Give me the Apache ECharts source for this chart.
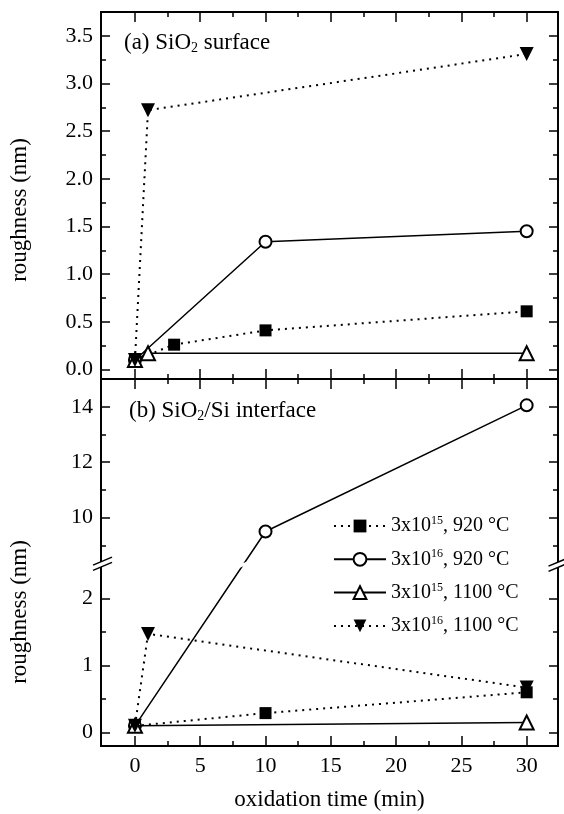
<!DOCTYPE html>
<html><head><meta charset="utf-8">
<script src="https://cdn.jsdelivr.net/npm/echarts@6/dist/echarts.min.js"></script>
<style>html,body{margin:0;padding:0;background:#fff}#c{width:564px;height:814px}</style>
</head><body><div id="c"></div>
<script>
// ---------- data ----------
const seriesNames = ['3x10^15, 920 °C', '3x10^16, 920 °C', '3x10^15, 1100 °C', '3x10^16, 1100 °C'];

// (a) SiO2 surface
const surfTime15_920 = [0, 3, 10, 30];
const surfRough15_920 = [0.1, 0.26, 0.41, 0.61];
const surfTime16_920 = [0, 10, 30];
const surfRough16_920 = [0.1, 1.34, 1.45];
const surfTime15_1100 = [0, 1, 30];
const surfRough15_1100 = [0.1, 0.17, 0.17];
const surfTime16_1100 = [0, 1, 30];
const surfRough16_1100 = [0.1, 2.72, 3.31];

// (b) SiO2/Si interface
const intTime15_920 = [0, 10, 30];
const intRough15_920 = [0.1, 0.29, 0.6];
const intTime16_920 = [0, 10, 30];
const intRough16_920 = [0.1, 9.5, 14.05];
const intTime15_1100 = [0, 30];
const intRough15_1100 = [0.1, 0.15];
const intTime16_1100 = [0, 1, 30];
const intRough16_1100 = [0.1, 1.47, 0.67];

// ticks
const xMajorTicks = [0, 5, 10, 15, 20, 25, 30];
const xMinorTicks = [2.5, 7.5, 12.5, 17.5, 22.5, 27.5];
const surfYMajor = [0, 0.5, 1, 1.5, 2, 2.5, 3, 3.5];
const surfYMinor = [0.25, 0.75, 1.25, 1.75, 2.25, 2.75, 3.25];
const intLowMajor = [0, 1, 2];
const intLowMinor = [0.5, 1.5];
const intHighMajor = [10, 12, 14];
const intHighMinor = [9, 11, 13];

// ---------- broken axis mapping (panel b) ----------
const BREAK_LOW = 2.5, BREAK_HIGH = 8.3, UPPER_SCALE = 0.413, INT_MAX = 15, INT_MIN = -0.2;
function tMap(v) { return v <= BREAK_LOW ? v : BREAK_LOW + (v - BREAK_HIGH) * UPPER_SCALE; }
function tInv(t) { return t <= BREAK_LOW + 1e-6 ? t : BREAK_HIGH + (t - BREAK_LOW) / UPPER_SCALE; }

// ---------- layout / style ----------
const FONT = '"Liberation Serif", "Times New Roman", serif';
const X_MIN = -2.6, X_MAX = 32.4;
const GRID_L = 101, GRID_R = 6;
const grids = [
  { left: GRID_L, right: GRID_R, top: 12, height: 367 },
  { left: GRID_L, right: GRID_R, top: 379, height: 367 }
];
const AXIS_LINE = { show: true, onZero: false, lineStyle: { color: '#000', width: 1.8 } };

function xAx(grid, pos, ticks, len, labels) {
  return {
    type: 'value', gridIndex: grid, position: pos, min: X_MIN, max: X_MAX,
    axisLine: AXIS_LINE, splitLine: { show: false },
    axisTick: { show: true, inside: true, length: len, customValues: ticks, lineStyle: { color: '#000', width: 1.5 } },
    axisLabel: labels ? { show: true, customValues: ticks, margin: 9, color: '#000', fontFamily: FONT, fontSize: 22 } : { show: false }
  };
}
function yAx(grid, pos, min, max, ticks, len, labels, fmt) {
  return {
    type: 'value', gridIndex: grid, position: pos, min: min, max: max,
    axisLine: AXIS_LINE, splitLine: { show: false },
    axisTick: { show: true, inside: true, length: len, customValues: ticks, lineStyle: { color: '#000', width: 1.5 } },
    axisLabel: labels ? { show: true, customValues: ticks, margin: 8, color: '#000', fontFamily: FONT, fontSize: 22, formatter: fmt } : { show: false }
  };
}
const intMajT = intLowMajor.concat(intHighMajor).map(tMap);
const intMinT = intLowMinor.concat(intHighMinor).map(tMap);
const xAxes = [
  xAx(0, 'bottom', xMajorTicks, 10, false), xAx(0, 'bottom', xMinorTicks, 5, false),
  xAx(0, 'top', xMajorTicks, 10, false), xAx(0, 'top', xMinorTicks, 5, false),
  xAx(1, 'bottom', xMajorTicks, 10, true), xAx(1, 'bottom', xMinorTicks, 5, false),
  xAx(1, 'top', xMajorTicks, 10, false), xAx(1, 'top', xMinorTicks, 5, false)
];
xAxes[4].name = 'oxidation time (min)';
xAxes[4].nameLocation = 'middle';
xAxes[4].nameGap = 42;
xAxes[4].nameTextStyle = { fontFamily: FONT, fontSize: 23, color: '#000' };

const yAxes = [
  yAx(0, 'left', -0.1, 3.75, surfYMajor, 9, true, v => v.toFixed(1)),
  yAx(0, 'left', -0.1, 3.75, surfYMinor, 5, false),
  yAx(0, 'right', -0.1, 3.75, surfYMajor, 9, false),
  yAx(0, 'right', -0.1, 3.75, surfYMinor, 5, false),
  yAx(1, 'left', INT_MIN, tMap(INT_MAX), intMajT, 9, true, v => String(Math.round(tInv(v)))),
  yAx(1, 'left', INT_MIN, tMap(INT_MAX), intMinT, 5, false),
  yAx(1, 'right', INT_MIN, tMap(INT_MAX), intMajT, 9, false),
  yAx(1, 'right', INT_MIN, tMap(INT_MAX), intMinT, 5, false)
];

const symbols = ['rect', 'emptyCircle', 'emptyTriangle', 'triangle'];
const symRot = [0, 0, 0, 180];
const symSize = [12, 12, 14, 14];
const dotted = [true, false, false, true];

function pts(xs, ys, f) { return xs.map((x, i) => [x, f ? f(ys[i]) : ys[i]]); }
function mkSeries(idx, data, xi, yi) {
  return {
    type: 'line', name: seriesNames[idx], xAxisIndex: xi, yAxisIndex: yi, data: data,
    symbol: symbols[idx], symbolRotate: symRot[idx], symbolSize: symSize[idx], showAllSymbol: true,
    lineStyle: dotted[idx] ? { color: '#000', width: 2, type: [2, 5] } : { color: '#000', width: 1.5, type: 'solid' },
    itemStyle: { color: '#000', borderColor: '#000', borderWidth: symbols[idx].indexOf('empty') === 0 ? 1.5 : 0 },
    emphasis: { disabled: true }, animation: false, z: 3 + idx
  };
}
const series = [
  mkSeries(0, pts(surfTime15_920, surfRough15_920), 0, 0),
  mkSeries(1, pts(surfTime16_920, surfRough16_920), 0, 0),
  mkSeries(2, pts(surfTime15_1100, surfRough15_1100), 0, 0),
  mkSeries(3, pts(surfTime16_1100, surfRough16_1100), 0, 0),
  mkSeries(0, pts(intTime15_920, intRough15_920, tMap), 4, 4),
  mkSeries(1, pts(intTime16_920, intRough16_920, tMap), 4, 4),
  mkSeries(2, pts(intTime15_1100, intRough15_1100, tMap), 4, 4),
  mkSeries(3, pts(intTime16_1100, intRough16_1100, tMap), 4, 4)
];

const titleRich = { sub: { fontFamily: FONT, fontSize: 14, verticalAlign: 'bottom', padding: [10, 0, 0, 0], color: '#000' } };
const chart = echarts.init(document.getElementById('c'), null, { renderer: 'canvas' });
const yTitleStyle = { text: 'roughness (nm)', fontFamily: FONT, fontSize: 23, fill: '#000', align: 'center', verticalAlign: 'middle', textAlign: 'center', textVerticalAlign: 'middle' };
const baseGraphics = [
  { type: 'text', x: 20, y: 210, rotation: Math.PI / 2, style: Object.assign({}, yTitleStyle) },
  { type: 'text', x: 20, y: 612, rotation: Math.PI / 2, style: Object.assign({}, yTitleStyle) }
];
chart.setOption({
  animation: false,
  backgroundColor: '#fff',
  grid: grids,
  xAxis: xAxes,
  yAxis: yAxes,
  title: [
    { text: '(a) SiO{sub|2} surface', left: 124, top: 31, padding: 0, textStyle: { fontFamily: FONT, fontSize: 23, fontWeight: 'normal', color: '#000', rich: titleRich } },
    { text: '(b) SiO{sub|2}/Si interface', left: 129, top: 399, padding: 0, textStyle: { fontFamily: FONT, fontSize: 23, fontWeight: 'normal', color: '#000', rich: titleRich } }
  ],
  legend: {
    data: seriesNames, orient: 'vertical', left: 333, top: 515, padding: 0,
    itemWidth: 52, itemHeight: 16, itemGap: 11.3, selectedMode: false,
    formatter: n => n.replace(/\^(\d+)/, '{sup|$1}'),
    textStyle: { fontFamily: FONT, fontSize: 20, color: '#000', lineHeight: 22,
      rich: { sup: { fontFamily: FONT, fontSize: 12, color: '#000', verticalAlign: 'top', lineHeight: 14 } } }
  },
  series: series,
  graphic: baseGraphics
});

// axis break marks (decoration)
function breakMark(cx, cy) {
  const dx = 9.5, dy = 4, g = 2.6;
  return [
    { type: 'polygon', shape: { points: [[cx - dx, cy - g + dy], [cx + dx, cy - g - dy], [cx + dx, cy + g - dy], [cx - dx, cy + g + dy]] }, style: { fill: '#fff' }, z: 100 },
    { type: 'line', shape: { x1: cx - dx, y1: cy - g + dy, x2: cx + dx, y2: cy - g - dy }, style: { stroke: '#000', lineWidth: 1.5 }, z: 101 },
    { type: 'line', shape: { x1: cx - dx, y1: cy + g + dy, x2: cx + dx, y2: cy + g - dy }, style: { stroke: '#000', lineWidth: 1.5 }, z: 101 }
  ];
}
const pL = chart.convertToPixel({ xAxisIndex: 4, yAxisIndex: 4 }, [X_MIN, BREAK_LOW]);
const pR = chart.convertToPixel({ xAxisIndex: 4, yAxisIndex: 4 }, [X_MAX, BREAK_LOW]);
// gap in the 3x10^16, 920 °C line where it crosses the break
const a0 = chart.convertToPixel({ xAxisIndex: 4, yAxisIndex: 4 }, [intTime16_920[0], tMap(intRough16_920[0])]);
const a1 = chart.convertToPixel({ xAxisIndex: 4, yAxisIndex: 4 }, [intTime16_920[1], tMap(intRough16_920[1])]);
const fr = (a0[1] - pL[1]) / (a0[1] - a1[1]);
const cxLine = a0[0] + fr * (a1[0] - a0[0]);
const gapMark = { type: 'line', shape: { x1: cxLine - 4, y1: pL[1] + 1.7, x2: cxLine + 4, y2: pL[1] - 1.7 }, style: { stroke: '#fff', lineWidth: 3 }, z: 100 };
chart.setOption({ graphic: baseGraphics.concat(breakMark(pL[0] + 1.5, pL[1] - 1), breakMark(pR[0], pR[1]), [gapMark]) });
</script></body></html>
